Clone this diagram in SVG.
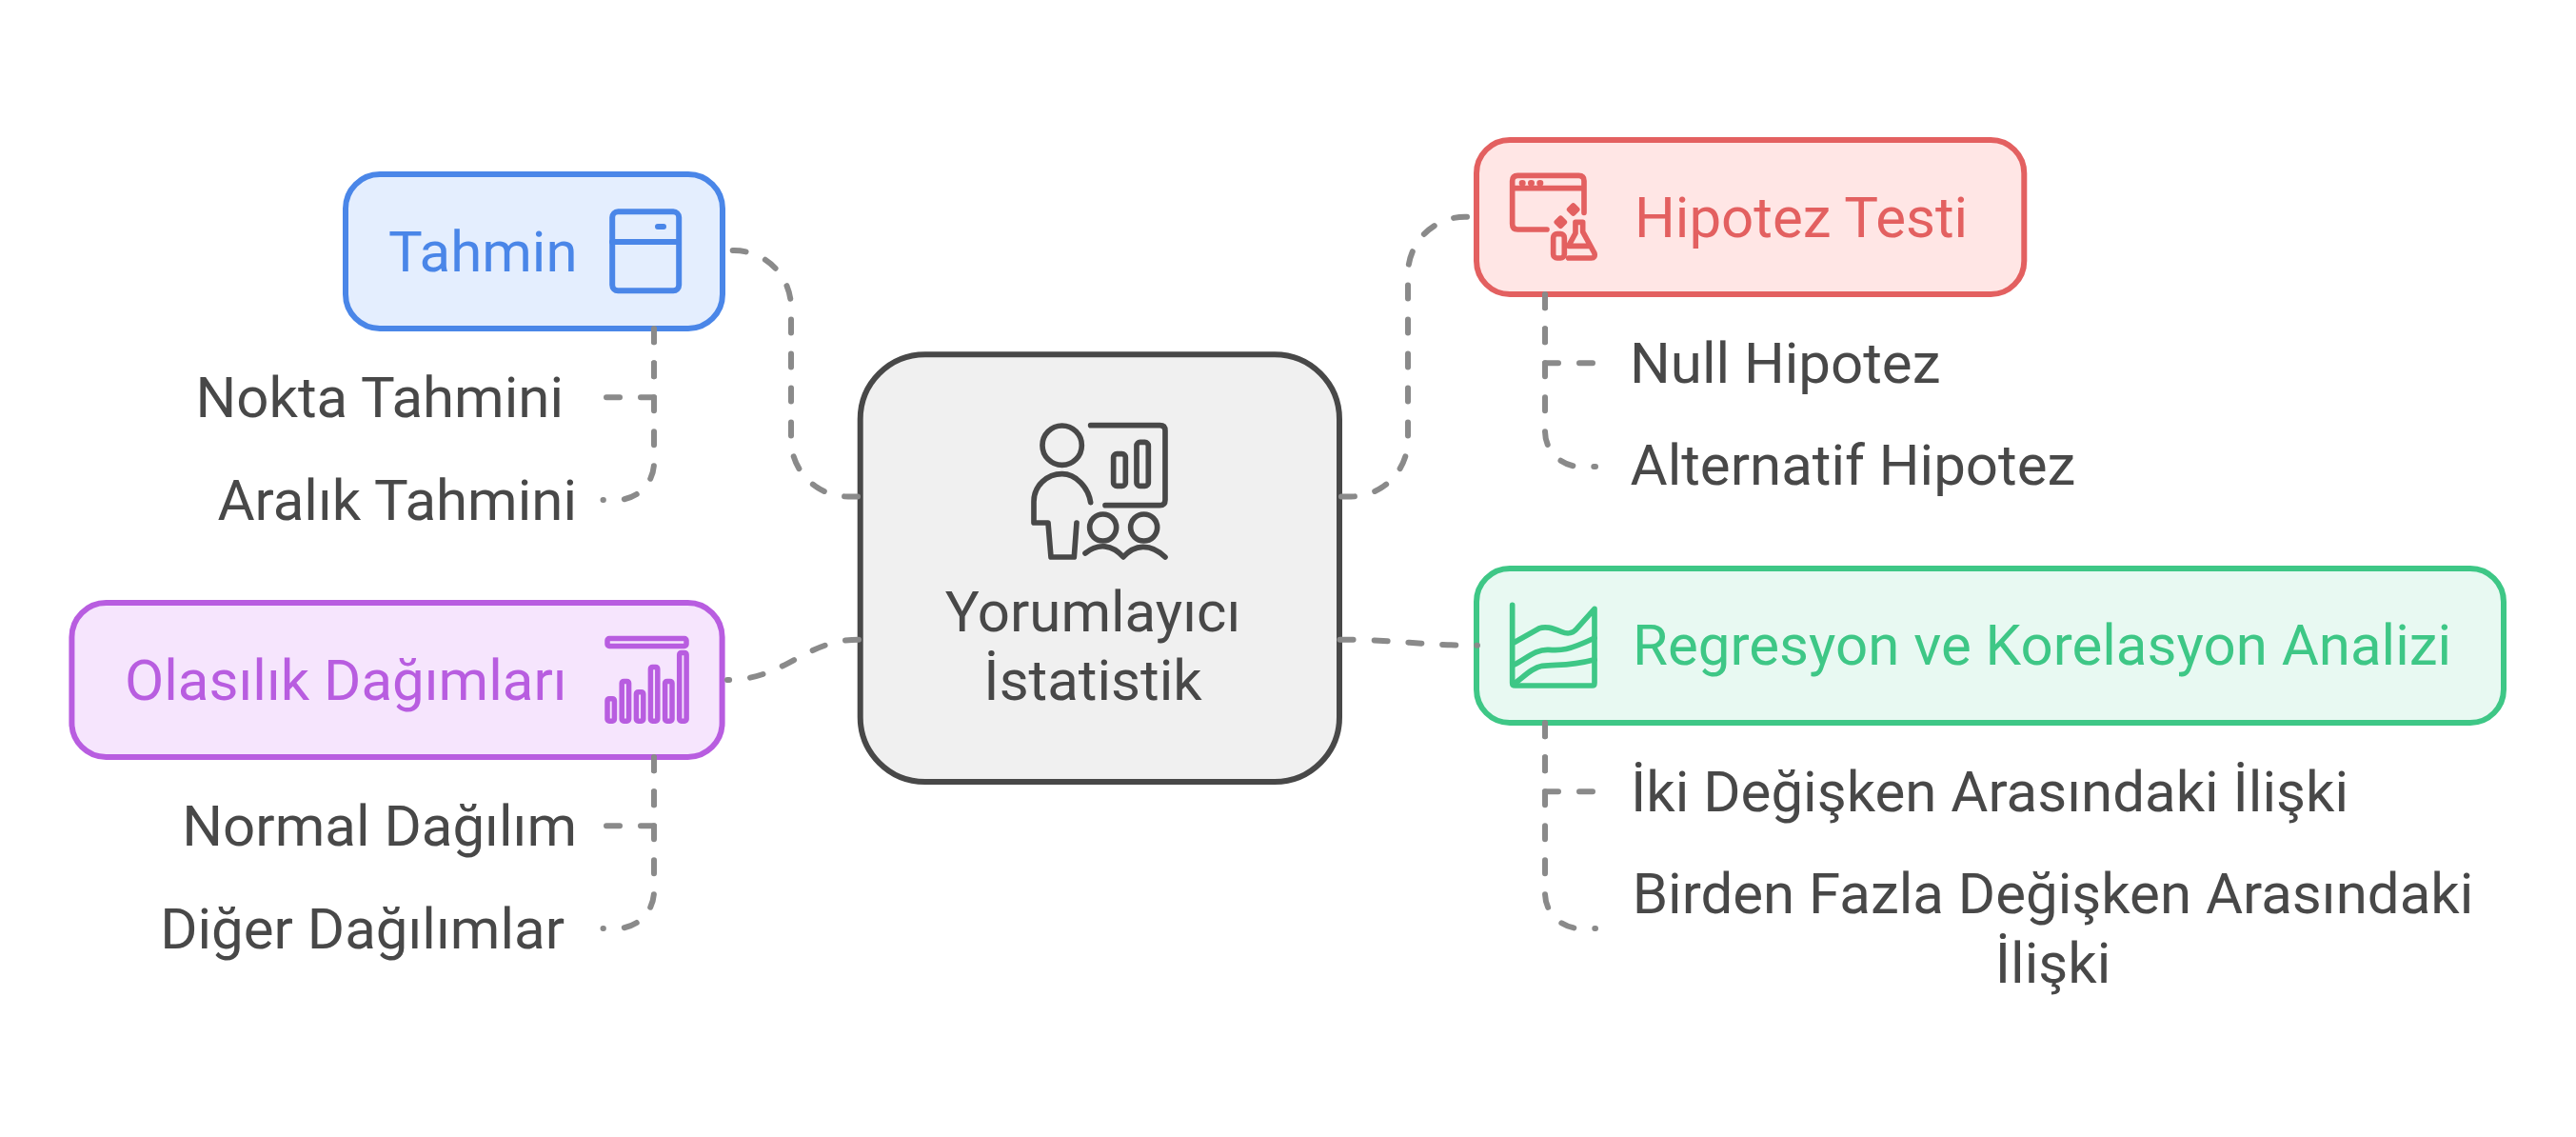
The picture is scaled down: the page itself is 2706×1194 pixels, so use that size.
<svg xmlns="http://www.w3.org/2000/svg" width="2706" height="1194" viewBox="0 0 2706 1194">
<style>
text{font-family:Roboto,"Liberation Sans",sans-serif;font-size:60px;fill:#484848}
.c{fill:none;stroke:#8a8a8a;stroke-width:6;stroke-linecap:round;stroke-dasharray:14 22}
.i{fill:none;stroke-linecap:round;stroke-linejoin:round}
</style>
<rect width="2706" height="1194" fill="#fff"/>
<g id="center">
<rect x="903.7" y="372.3" width="503.3" height="448.7" rx="68" fill="#f0f0f0" stroke="#484848" stroke-width="6"/>
<g transform="translate(1000 400) scale(.3333)" class="i" stroke="#484848" stroke-width="17">
<circle cx="347" cy="203" r="62"/>
<path d="M437 140H655Q672 140 672 157V375Q672 392 655 392H483"/>
<rect x="509" y="230" width="38" height="101" rx="11"/>
<rect x="582" y="193" width="37" height="138" rx="11"/>
<path d="M437 383C430 335 390 293 347 293C300 293 258 330 258 380V447H303L312 555H385L393 447"/>
<circle cx="476" cy="462" r="42"/>
<circle cx="605" cy="462" r="42"/>
<path d="M420 543C460 510 505 515 540 555C575 515 625 510 672 555"/>
</g>
<text x="1148" y="662.7" text-anchor="middle">Yorumlayıcı</text>
<text x="1148" y="735" text-anchor="middle">İstatistik</text>
</g>
<g id="tahmin">
<rect x="363" y="183" width="396" height="162" rx="36" fill="#e4eefe" stroke="#4a86e8" stroke-width="6"/>
<g class="i" stroke="#4a86e8" stroke-width="6">
<rect x="643.2" y="222.3" width="70" height="83" rx="6"/>
<path d="M643 254H713M691 238H697"/>
</g>
<text x="408" y="285" style="fill:#4a86e8">Tahmin</text>
</g>
<text id="nokta" x="592" y="437.7" text-anchor="end">Nokta Tahmini</text>
<text id="aralik" x="606" y="545.7" text-anchor="end">Aralık Tahmini</text>
<g id="olasilik">
<rect x="75.4" y="633" width="683.2" height="162" rx="36" fill="#f6e5fd" stroke="#b85de0" stroke-width="6"/>
<g fill="none" stroke="#b85de0" stroke-width="5.5">
<rect x="638" y="670.5" width="83" height="8" rx="2"/>
<rect x="638" y="733.7" width="7.4" height="23.5" rx="2"/>
<rect x="653.2" y="715.4" width="7.4" height="41.8" rx="2"/>
<rect x="668.4" y="726.7" width="7.4" height="30.5" rx="2"/>
<rect x="683.4" y="700.4" width="7.4" height="56.8" rx="2"/>
<rect x="698.6" y="715.4" width="7.4" height="41.8" rx="2"/>
<rect x="713.7" y="685.4" width="7.4" height="71.8" rx="2"/>
</g>
<text x="131" y="735" style="fill:#b85de0">Olasılık Dağımları</text>
</g>
<text id="normal" x="606" y="887.7" text-anchor="end">Normal Dağılım</text>
<text id="diger" x="593" y="995.7" text-anchor="end">Diğer Dağılımlar</text>
<g id="hipotez">
<rect x="1551" y="147" width="575.3" height="162" rx="35" fill="#ffe6e5" stroke="#e36060" stroke-width="6"/>
<g transform="translate(1540 130) scale(.3333)" class="i" stroke="#e36060" stroke-width="17">
<path d="M372 280V180Q372 163 355 163H163Q146 163 146 180V315Q146 333 163 333H255M146 203H372"/>
<rect x="275" y="347" width="35" height="76" rx="12"/>
<path d="M345 310H368V340L405 408Q408 423 395 423H323M345 310V345L323 385H385"/>
<path d="M338 258L350 270L338 282L326 270ZM298 298L310 310L298 322L286 310Z" fill="#e36060"/>
<path d="M177 187H178M205 187H206M233 187H234" stroke-width="20"/>
</g>
<text x="1717" y="249" style="fill:#e36060">Hipotez Testi</text>
</g>
<text id="null" x="1712" y="401.7">Null Hipotez</text>
<text id="alternatif" x="1712.5" y="509.3">Alternatif Hipotez</text>
<g id="regresyon">
<rect x="1551" y="597" width="1079" height="162" rx="35" fill="#e8f9f2" stroke="#3ec786" stroke-width="6"/>
<g transform="translate(1540 580) scale(.3333)" class="i" stroke="#3ec786" stroke-width="17">
<path d="M146 166V412Q146 420 155 420H398Q405 420 405 412V178L350 240C335 258 320 258 300 250C270 238 250 232 230 240L150 285"/>
<path d="M150 355C190 335 220 305 260 307C300 310 320 310 405 270"/>
<path d="M150 415C180 395 205 365 240 358C290 352 320 360 405 338"/>
</g>
<text x="1715" y="698" style="fill:#3ec786">Regresyon ve Korelasyon Analizi</text>
</g>
<text id="iki" x="1713" y="851.7">İki Değişken Arasındaki İlişki</text>
<text id="birden" x="2156.5" y="959.3" text-anchor="middle">Birden Fazla Değişken Arasındaki</text>
<text id="iliski" x="2156.5" y="1031.7" text-anchor="middle">İlişki</text>
<g id="connectors">
<path class="c" d="M901 521.5H891A60 60 0 0 1 831 461.5V323A60 60 0 0 0 771 263H768"/>
<path class="c" d="M687 345.3V417.3H634"/>
<path class="c" d="M687 345.3V486A39 39 0 0 1 648 525H633.5"/>
<path class="c" d="M902 671.7C845 671.7 825 714 764 714"/>
<path class="c" d="M687 795.3V867.3H634"/>
<path class="c" d="M687 795.3V936A39 39 0 0 1 648 975H633.5"/>
<path class="c" d="M1409 521.5H1419A60 60 0 0 0 1479 461.5V287.7A60 60 0 0 1 1539 227.7H1542"/>
<path class="c" d="M1407.5 671.7C1470 671.7 1490 677.7 1552 677.7"/>
<path class="c" d="M1623 309.3V381.3H1677"/>
<path class="c" d="M1623 309.3V453A37 37 0 0 0 1660 490H1676"/>
<path class="c" d="M1623 759.3V831.3H1677"/>
<path class="c" d="M1623 759.3V938A37 37 0 0 0 1660 975H1676"/>
</g>
</svg>
